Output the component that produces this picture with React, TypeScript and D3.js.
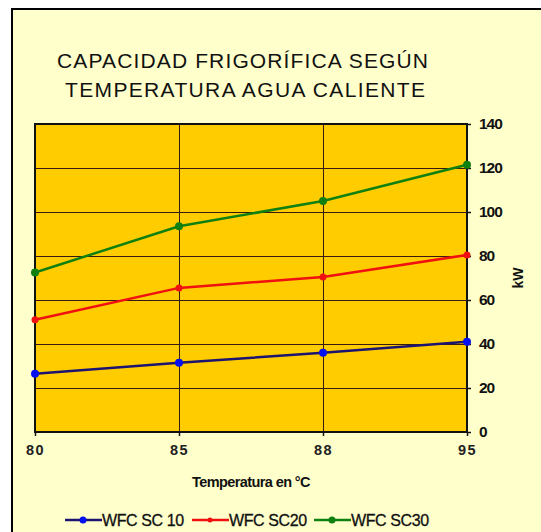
import React, { useEffect, useRef } from 'react'
import * as d3 from 'd3'

// temperatures (categories) and capacity in kW for each model
const temps = ['80', '85', '88', '95']
const sc10 = [26.5, 31.5, 36, 41]
const sc20 = [51, 65.5, 70.5, 80.5]
const sc30 = [72.5, 93.5, 105, 121.5]
const yTicks = [0, 20, 40, 60, 80, 100, 120, 140]

const series = [
  { name: 'WFC SC 10', values: sc10, line: '#1c1470', dot: '#0010f0', r: 4 },
  { name: 'WFC SC20', values: sc20, line: '#f01010', dot: '#f01010', r: 3.5 },
  { name: 'WFC SC30', values: sc30, line: '#108010', dot: '#108010', r: 4 },
]

const FONT = 'Arial, "Liberation Sans", sans-serif'

export default function App() {
  const ref = useRef<SVGSVGElement>(null)

  useEffect(() => {
    const svg = d3.select(ref.current)
    svg.selectAll('*').remove()

    const W = 541
    const H = 532
    const left = 35, right = 467, top = 124, bottom = 432

    // frame
    svg.append('rect').attr('width', W).attr('height', H).attr('fill', '#fff')
    svg.append('rect')
      .attr('x', 12).attr('y', 9).attr('width', W + 20).attr('height', H + 20)
      .attr('fill', '#ffffcc').attr('stroke', '#000').attr('stroke-width', 2)

    // title
    const title = svg.append('g').attr('font-family', FONT)
      .attr('font-size', 21).attr('fill', '#111')
    title.append('text').attr('x', 57).attr('y', 68)
      .attr('textLength', 371).attr('lengthAdjust', 'spacing')
      .text('CAPACIDAD FRIGORÍFICA SEGÚN')
    title.append('text').attr('x', 65).attr('y', 97)
      .attr('textLength', 360).attr('lengthAdjust', 'spacing')
      .text('TEMPERATURA AGUA CALIENTE')

    const x = d3.scalePoint().domain(temps).range([left, right])
    const y = d3.scaleLinear().domain([0, 140]).range([bottom, top])

    // plot area
    svg.append('rect')
      .attr('x', left).attr('y', top).attr('width', right - left).attr('height', bottom - top)
      .attr('fill', '#ffcc00')

    // grid
    const grid = svg.append('g').attr('stroke', '#3a1a10').attr('stroke-width', 1)
    grid.selectAll('line.h').data(yTicks.slice(1, -1)).enter().append('line')
      .attr('x1', left).attr('x2', right)
      .attr('y1', d => Math.round(y(d)) + 0.5).attr('y2', d => Math.round(y(d)) + 0.5)
    grid.selectAll('line.v').data(temps.slice(1, -1)).enter().append('line')
      .attr('y1', top).attr('y2', bottom)
      .attr('x1', d => Math.round(x(d)!) + 0.5).attr('x2', d => Math.round(x(d)!) + 0.5)

    svg.append('rect')
      .attr('x', left).attr('y', top).attr('width', right - left).attr('height', bottom - top)
      .attr('fill', 'none').attr('stroke', '#111').attr('stroke-width', 2)

    // right axis
    const yAxis = svg.append('g')
      .attr('transform', `translate(${right},0)`)
      .call(d3.axisRight(y).tickValues(yTicks).tickSize(4).tickPadding(8))
    yAxis.select('.domain').remove()
    yAxis.selectAll('line').attr('stroke', '#111').attr('stroke-width', 1.5)
    yAxis.selectAll('text')
      .attr('font-family', FONT)
      .attr('font-size', 15.5).attr('font-weight', 'bold').attr('fill', '#111')
      .attr('letter-spacing', -1)

    // bottom axis
    const xAxis = svg.append('g')
      .attr('transform', `translate(0,${bottom})`)
      .call(d3.axisBottom(x).tickSize(4).tickPadding(9))
    xAxis.select('.domain').remove()
    xAxis.selectAll('line').attr('stroke', '#111').attr('stroke-width', 1.5)
    xAxis.selectAll('text')
      .attr('font-family', FONT)
      .attr('font-size', 14.5).attr('font-weight', 'bold').attr('fill', '#222')
      .attr('letter-spacing', 1.5)

    svg.append('text')
      .attr('x', 251).attr('y', 487).attr('text-anchor', 'middle')
      .attr('font-family', FONT)
      .attr('font-size', 14.5).attr('font-weight', 'bold').attr('fill', '#111')
      .attr('letter-spacing', -0.6)
      .text('Temperatura en °C')

    svg.append('text')
      .attr('transform', 'translate(523,278) rotate(-90)').attr('text-anchor', 'middle')
      .attr('font-family', FONT)
      .attr('font-size', 14).attr('font-weight', 'bold').attr('fill', '#111')
      .text('kW')

    // lines + markers
    const line = d3.line<number>().x((_, i) => x(temps[i])!).y(d => y(d))
    series.forEach(s => {
      svg.append('path').attr('d', line(s.values)).attr('fill', 'none')
        .attr('stroke', s.line).attr('stroke-width', 2.5)
      svg.selectAll(null).data(s.values).enter().append('circle')
        .attr('cx', (_, i) => x(temps[i])!).attr('cy', d => y(d))
        .attr('r', s.r).attr('fill', s.dot)
    })

    // legend
    const legX = [65, 192, 314]
    const legend = svg.append('g')
    series.forEach((s, i) => {
      const g = legend.append('g').attr('transform', `translate(${legX[i]},520)`)
      g.append('line').attr('x1', 0).attr('x2', 37).attr('stroke', s.line).attr('stroke-width', 2.5)
      g.append('circle').attr('cx', 18).attr('r', i === 1 ? 2.5 : 3.5).attr('fill', s.dot)
      g.append('text').attr('x', 37).attr('y', 6)
        .attr('font-family', FONT)
        .attr('font-size', 16).attr('fill', '#111')
        .attr('stroke', '#111').attr('stroke-width', 0.3)
        .attr('letter-spacing', -0.4)
        .text(s.name)
    })
  }, [])

  return (
    <svg ref={ref} width={541} height={532}
      style={{ position: 'absolute', left: 0, top: 0, display: 'block' }} />
  )
}
